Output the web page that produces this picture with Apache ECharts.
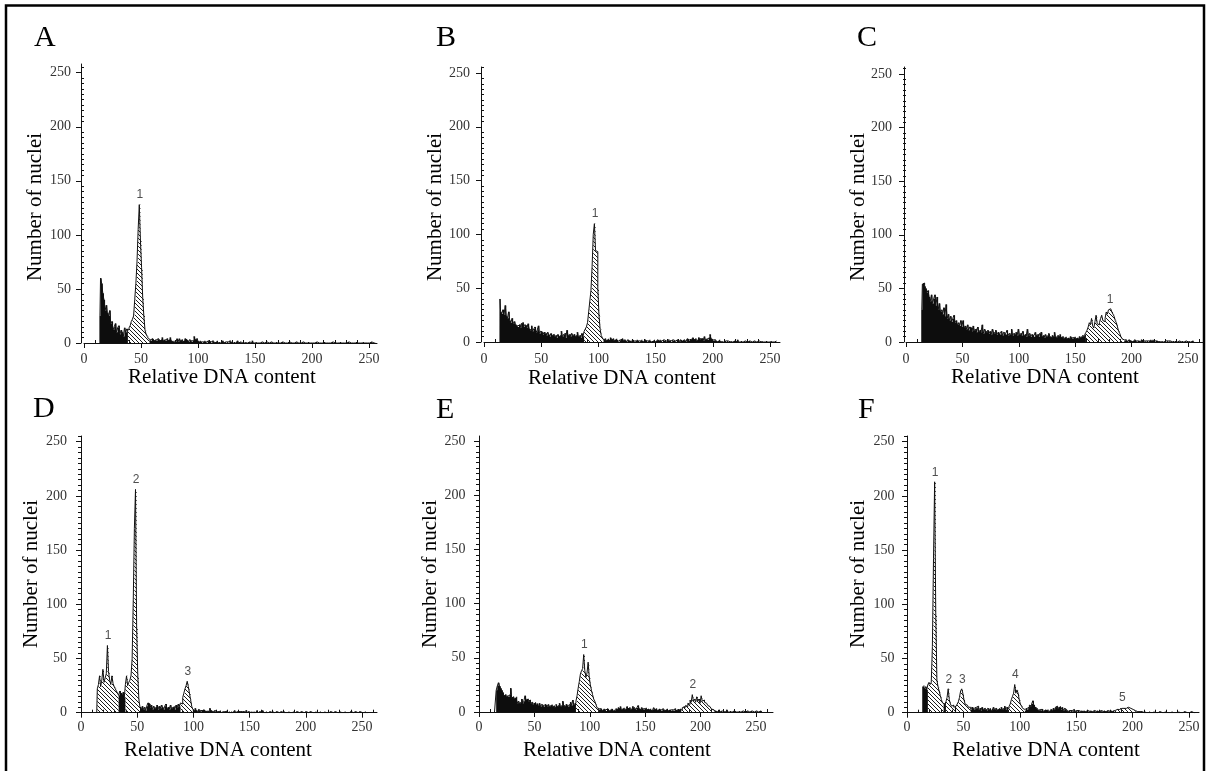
<!DOCTYPE html>
<html><head><meta charset="utf-8">
<script src="https://cdn.jsdelivr.net/npm/echarts@6/dist/echarts.min.js"></script>
<style>html,body{margin:0;padding:0;background:#fff}#c{width:1208px;height:771px}</style>
</head><body><div id="c"></div>
<script>
// ---------------- DATA ----------------
const START_CHANNEL = 14;               // first channel of every counts array
const panelLetters = ['A','B','C','D','E','F'];
const xTickLabels = [0,50,100,150,200,250];
const yTickLabels = [0,50,100,150,200,250];
const xAxisName = 'Relative DNA content';
const yAxisName = 'Number of nuclei';

// counts per channel, channels 14..256
const countsA = [
25,60,55,46,40,30,35,28,25,30,
18,20,12,15,18,10,14,16,8,12,
10,6,14,10,13,12,14,16,20,22,
25,40,55,75,105,128,95,70,42,25,
12,8,6,4,3,2,4,3,2,3,
2,4,3,2,3,5,2,3,2,4,
2,3,5,2,1,2,0,1,4,1,
4,2,3,1,2,4,3,2,1,3,
2,1,2,6,3,4,2,1,2,1,
0,1,2,1,0,2,1,1,0,2,
1,0,1,2,0,1,0,1,2,0,
1,0,1,0,2,1,0,0,1,0,
1,2,0,1,0,0,1,0,1,0,
0,1,0,0,2,0,0,1,0,0,
0,0,1,0,0,0,1,0,0,0,
1,0,0,0,0,1,0,0,0,0,
1,0,0,0,0,0,1,0,0,0,
0,0,1,0,0,0,0,0,1,0,
0,0,0,1,0,0,0,0,0,0,
1,0,0,0,0,0,0,1,0,0,
0,0,0,0,1,0,0,0,0,0,
0,1,0,0,0,0,0,0,1,0,
0,0,0,0,0,1,0,0,0,0,
0,1,0,0,0,0,0,0,1,0,
0,0,0];
const countsB = [
40,28,26,30,25,34,24,22,28,20,
18,22,17,19,16,15,14,16,13,17,
18,14,16,15,13,17,12,11,15,10,
12,14,9,11,15,8,10,9,7,9,
8,6,9,7,5,8,6,7,5,6,
4,7,5,6,10,5,7,8,4,11,
6,7,5,8,6,7,5,6,9,5,
6,4,8,5,10,12,14,18,28,38,
48,70,100,110,85,84,50,25,12,6,
4,2,3,1,2,3,1,4,2,3,
1,2,3,1,0,2,1,3,1,2,
1,0,2,1,1,0,2,1,0,1,
2,1,0,1,2,0,1,2,1,0,
1,2,0,1,1,2,0,1,2,1,
2,1,0,2,1,1,0,2,1,1,
0,2,1,1,0,2,1,0,2,1,
1,2,1,0,3,2,1,2,3,4,
2,3,1,2,4,3,2,3,1,5,
2,3,2,4,7,3,2,1,2,1,
0,1,2,0,1,0,0,1,0,1,
0,0,1,0,0,1,0,0,2,0,
0,1,0,0,1,0,0,0,1,0,
0,0,1,0,0,0,1,0,0,1,
0,0,0,1,0,0,0,1,0,0,
0,1,0];
const countsC = [
30,54,55,52,50,46,48,42,38,44,
36,40,44,34,42,30,36,28,30,26,
32,24,35,22,26,20,24,19,22,25,
18,20,16,18,15,20,14,20,13,15,
12,16,11,14,13,10,15,11,12,9,
14,10,11,9,16,8,12,10,9,11,
8,10,7,12,9,8,11,7,9,8,
7,10,6,9,8,7,11,6,8,7,
12,6,8,7,9,6,12,7,8,6,
10,6,7,5,12,6,8,5,7,6,
5,9,6,7,5,8,9,5,6,4,
7,5,6,8,5,4,6,5,9,5,
4,6,5,7,4,5,3,4,5,3,
4,3,5,4,3,4,5,3,4,3,
5,4,5,6,5,7,9,11,14,18,
16,22,15,13,19,25,17,16,18,22,
25,20,19,22,28,26,30,31,30,28,
26,24,20,18,14,10,8,5,3,2,
1,2,1,0,2,1,1,0,1,2,
1,0,1,1,0,2,1,0,1,0,
1,0,1,2,1,2,1,0,1,1,
0,1,0,1,0,0,1,0,1,0,
1,0,0,1,0,1,0,0,1,0,
0,1,0,0,1,0,0,1,0,0,
1,0,0];
const countsD = [
0,22,26,34,24,30,40,28,32,36,
62,38,30,26,34,27,24,22,20,18,
16,20,18,17,19,14,26,34,25,28,
30,34,50,104,170,206,80,35,12,5,
4,6,3,5,2,6,9,8,5,7,
3,6,4,5,7,3,6,4,7,5,
3,6,8,4,5,3,7,4,5,6,
3,7,5,8,6,9,8,14,18,22,
25,29,24,18,12,6,3,2,4,2,
1,3,2,1,2,3,1,2,1,2,
1,4,2,1,0,2,1,1,0,1,
2,0,1,1,0,1,2,0,1,0,
1,0,1,2,0,1,0,1,0,1,
0,1,0,2,0,1,0,0,1,0,
1,0,0,2,0,1,0,0,2,0,
0,1,0,0,1,0,0,1,0,0,
1,0,0,0,1,0,0,1,0,0,
0,1,0,0,0,1,0,0,1,0,
0,0,1,0,0,0,1,0,0,0,
1,0,0,0,0,1,0,0,0,1,
0,0,0,1,0,0,0,0,1,0,
0,0,1,0,0,0,0,1,0,0,
0,1,0,0,0,0,1,0,0,0,
1,0,0,0,1,0,0,0,0,1,
0,0,0];
const countsE = [
0,0,20,24,27,24,22,20,18,15,
16,14,15,14,16,22,13,14,12,13,
14,8,10,8,9,12,8,10,15,11,
12,10,11,8,9,7,8,9,7,8,
6,8,5,7,6,5,7,6,5,7,
5,6,7,5,6,4,7,5,6,8,
5,6,10,6,5,7,6,5,7,9,
6,11,7,8,10,15,22,28,35,38,
40,53,38,32,36,46,32,25,20,16,
12,10,7,4,3,2,3,1,2,3,
2,1,3,2,1,2,3,1,2,1,
3,2,4,3,5,2,3,4,2,3,
5,3,4,2,3,5,4,3,2,4,
6,3,2,4,3,2,3,4,2,3,
2,3,1,2,4,2,3,1,2,3,
2,1,3,2,1,2,3,1,2,2,
1,2,1,3,1,2,1,2,3,2,
4,5,3,6,5,8,7,11,9,16,
10,12,9,14,10,12,8,15,10,11,
9,8,7,6,5,4,3,2,3,1,
1,0,1,2,0,1,0,0,1,0,
2,0,0,1,0,0,1,0,0,0,
0,1,0,0,1,0,0,0,1,0,
0,0,1,0,0,0,1,0,0,0,
1,0,0];
const countsF = [
24,25,22,24,21,26,28,26,28,61,
142,213,92,30,24,20,16,12,9,8,
9,10,14,22,12,8,6,7,5,6,
7,8,10,14,20,22,18,12,8,7,
6,5,5,3,5,4,3,5,4,6,
3,4,2,5,3,4,3,2,4,3,
4,2,3,5,3,4,2,3,4,3,
5,3,4,6,3,5,4,6,8,12,
15,18,26,18,21,18,12,8,6,4,
3,2,4,3,5,7,6,8,11,7,
5,4,3,2,3,2,3,1,2,3,
2,3,1,2,3,2,4,3,5,6,
4,5,6,3,5,2,4,3,2,1,
2,1,2,1,3,1,2,1,2,1,
1,2,1,2,1,1,2,1,1,2,
1,1,2,1,1,2,1,1,2,1,
1,2,1,1,2,1,1,2,1,2,
2,3,3,4,3,4,4,5,4,5,
4,5,5,4,4,3,3,2,2,1,
1,0,1,0,1,0,0,1,0,0,
0,1,0,0,0,1,0,0,0,0,
1,0,0,0,0,1,0,0,0,0,
0,1,0,0,0,0,0,1,0,0,
0,0,1,0,0,0,0,0,1,0,
0,0,0];

// hatched (gated) peak regions, [firstChannel, lastChannel]
const hatchA = [[39,57]];
const hatchB = [[88,104]];
const hatchC = [[160,193]];
const hatchD = [[15,33],[40,52],[89,99]];
const hatchE = [[88,107],[183,212]];
const hatchF = [[19,32],[35,42],[44,56],[90,104],[184,203]];

// peak labels (one per hatched region)
const peakLabelsA = ['1'];
const peakLabelsB = ['1'];
const peakLabelsC = ['1'];
const peakLabelsD = ['1','2','3'];
const peakLabelsE = ['1','2'];
const peakLabelsF = ['1','2','3','4','5'];

// ---------------- LAYOUT (pixels) ----------------
const layout = [
 {x0:84,  x250:369,  xEnd:377,  y0:343,   y250:72.7,  yTop:64,  yOff:3, xm:9,  ym:10,   title:[34,38],   yName:[35,207],  xName:[222,377]},
 {x0:484, x250:770,  xEnd:780,  y0:342,   y250:73,    yTop:67,  yOff:3, xm:10, ym:11,   title:[436,38],  yName:[435,207], xName:[622,378]},
 {x0:906, x250:1188, xEnd:1203, y0:342,   y250:74,    yTop:67,  yOff:2, xm:10, ym:12,   title:[857,38],  yName:[858,207], xName:[1045,377]},
 {x0:81,  x250:362,  xEnd:377,  y0:712.7, y250:441.7, yTop:436, yOff:0, xm:8,  ym:14,   title:[33,409],  yName:[31.5,574],xName:[218,750]},
 {x0:479, x250:756,  xEnd:773,  y0:712,   y250:441,   yTop:436, yOff:0, xm:8,  ym:13.5, title:[436,410], yName:[430,574], xName:[617,750]},
 {x0:907, x250:1189, xEnd:1199, y0:712.7, y250:441.7, yTop:436, yOff:0, xm:8,  ym:12.5, title:[858,410], yName:[858,574], xName:[1046,750]}
];

const panels = [
 {counts:countsA, hatch:hatchA, labels:peakLabelsA},
 {counts:countsB, hatch:hatchB, labels:peakLabelsB},
 {counts:countsC, hatch:hatchC, labels:peakLabelsC},
 {counts:countsD, hatch:hatchD, labels:peakLabelsD},
 {counts:countsE, hatch:hatchE, labels:peakLabelsE},
 {counts:countsF, hatch:hatchF, labels:peakLabelsF}
];

// ---------------- STYLE ----------------
const SERIF = "'Liberation Serif','Times New Roman',serif";
const SANS = "'Liberation Sans',Arial,sans-serif";
function makeHatch(){
  const c = document.createElement('canvas');
  c.width = 4; c.height = 4;
  const g = c.getContext('2d');
  g.fillStyle = '#1c1c1c';
  for (let i = 0; i < 4; i++) g.fillRect(i, i, 1, 1);
  return c;
}
const hatchFill = {image: makeHatch(), repeat: 'repeat'};

const option = {animation:false, backgroundColor:'#fff', grid:[], xAxis:[], yAxis:[], series:[], graphic:[]};

panels.forEach((p, i) => {
  const L = layout[i];
  const kx = (L.x250 - L.x0) / 250, ky = (L.y0 - L.y250) / 250;
  const xmax = (L.xEnd - L.x0) / kx, ymax = (L.y0 - L.yTop) / ky;
  option.grid.push({left:L.x0, right:1208 - L.xEnd, top:L.yTop, bottom:771 - L.y0, containLabel:false});

  const xMinor = [], yMinor = [];
  for (let v = 10; v <= xmax; v += 10) if (v % 50) xMinor.push(v);
  for (let v = 5; v <= ymax; v += 5) if (v % 50) yMinor.push(v);

  option.xAxis.push({
    type:'value', gridIndex:i, min:0, max:xmax,
    axisLine:{show:true, onZero:false, lineStyle:{color:'#111', width:1}},
    axisTick:{show:true, customValues:xTickLabels, length:5, lineStyle:{color:'#111'}},
    axisLabel:{customValues:xTickLabels, margin:L.xm, fontFamily:SERIF, fontSize:14, color:'#333'},
    splitLine:{show:false}
  }, {
    type:'value', gridIndex:i, min:0, max:xmax,
    axisLine:{show:false},
    axisTick:{show:true, customValues:xMinor, length:3, lineStyle:{color:'#111'}},
    axisLabel:{show:false}, splitLine:{show:false}
  });
  option.yAxis.push({
    type:'value', gridIndex:i, min:0, max:ymax, position:'left', offset:L.yOff,
    axisLine:{show:true, onZero:false, lineStyle:{color:'#111', width:1}},
    axisTick:{show:true, customValues:yTickLabels, length:5, lineStyle:{color:'#111'}},
    axisLabel:{customValues:yTickLabels, margin:L.ym, fontFamily:SERIF, fontSize:14, color:'#333'},
    splitLine:{show:false}
  }, {
    type:'value', gridIndex:i, min:0, max:ymax, position:'left', offset:L.yOff,
    axisLine:{show:false},
    axisTick:{show:true, customValues:yMinor, length:3, lineStyle:{color:'#111'}},
    axisLabel:{show:false}, splitLine:{show:false}
  });

  // contiguous runs of channels: hatched peak regions and black (ungated) regions
  const last = START_CHANNEL + p.counts.length - 1;
  const runs = [];
  let cur = START_CHANNEL;
  p.hatch.forEach(s => {
    if (s[0] > cur) runs.push([cur, s[0] - 1, 0]);
    runs.push([s[0], s[1], 1]);
    cur = s[1] + 1;
  });
  if (cur <= last) runs.push([cur, last, 0]);

  const line = p.counts.map((v, k) => [START_CHANNEL + k, v]);
  const peaks = p.hatch.map((s, j) => {
    let best = s[0], bv = -1;
    for (let ch = s[0]; ch <= s[1]; ch++) {
      const v = p.counts[ch - START_CHANNEL];
      if (v > bv) { bv = v; best = ch; }
    }
    return {name:p.labels[j], value:[best, bv]};
  });

  const counts = p.counts;
  option.series.push({
    type:'custom', coordinateSystem:'cartesian2d', xAxisIndex:2*i, yAxisIndex:2*i,
    data:runs, encode:{x:[0,1]}, silent:true, z:2,
    renderItem:(params, api) => {
      const a = api.value(0), b = api.value(1), h = api.value(2);
      const pts = [api.coord([a - 0.5, 0])];
      for (let ch = a; ch <= b; ch++) {
        const v = counts[ch - START_CHANNEL];
        pts.push(api.coord([ch - 0.5, v]), api.coord([ch + 0.5, v]));
      }
      pts.push(api.coord([b + 0.5, 0]));
      return {type:'polygon', shape:{points:pts}, style:{fill: h ? hatchFill : '#0d0d0d'}};
    }
  }, {
    type:'line', xAxisIndex:2*i, yAxisIndex:2*i, data:line, step:'middle', symbol:'none',
    silent:true, z:3, lineStyle:{color:'#111', width:1}
  }, {
    type:'scatter', xAxisIndex:2*i, yAxisIndex:2*i, data:peaks, symbolSize:1, silent:true, z:4,
    itemStyle:{color:'rgba(0,0,0,0)'},
    label:{show:true, position:'top', distance:3, formatter:'{b}', fontFamily:SANS, fontSize:12, color:'#222'}
  });

  option.graphic.push(
    {type:'text', x:L.title[0], y:L.title[1], silent:true,
     style:{text:panelLetters[i], fontFamily:SERIF, fontSize:30, fill:'#000', align:'left', verticalAlign:'middle'}},
    {type:'text', x:L.xName[0], y:L.xName[1], silent:true,
     style:{text:xAxisName, fontFamily:SERIF, fontSize:21, fill:'#000', align:'center', verticalAlign:'middle'}},
    {type:'text', x:L.yName[0], y:L.yName[1], rotation:Math.PI/2, silent:true,
     style:{text:yAxisName, fontFamily:SERIF, fontSize:21, fill:'#000', align:'center', verticalAlign:'middle'}}
  );
});

// outer frame
option.graphic.push({type:'polyline', silent:true, shape:{points:[[6,771],[6,5.5],[1204,5.5],[1204,771]]},
  style:{stroke:'#000', lineWidth:2.5, fill:null}});

const chart = echarts.init(document.getElementById('c'), null, {renderer:'canvas'});
chart.setOption(option);
</script>
</body></html>
